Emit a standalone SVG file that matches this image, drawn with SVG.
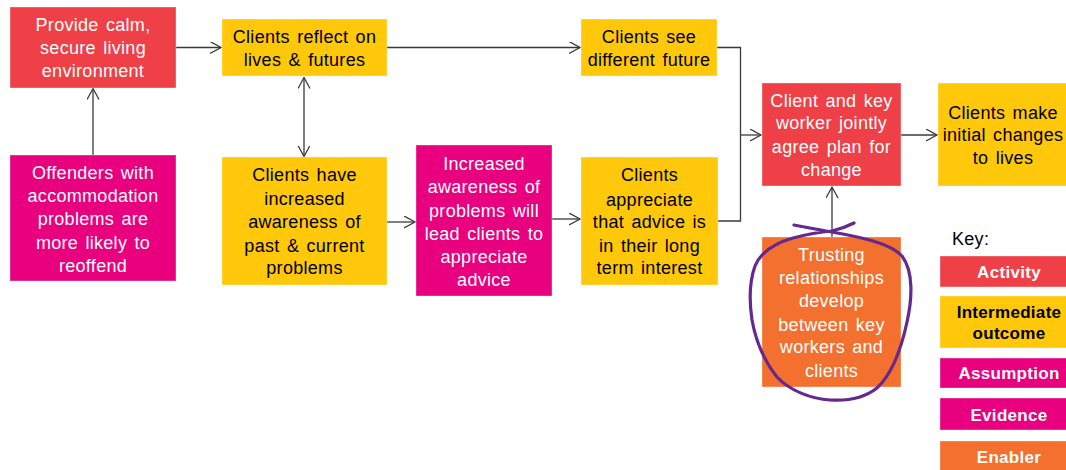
<svg xmlns="http://www.w3.org/2000/svg" width="1066" height="470" viewBox="0 0 1066 470">
<defs>
<style>
.box{stroke:#ffffff;stroke-opacity:0.35;stroke-width:1}
.act{fill:#EE4046}
.out{fill:#FFC80A}
.asm{fill:#E9007F}
.enb{fill:#F3702F}
text{font-family:"Liberation Sans",Arial,sans-serif;font-size:18px;letter-spacing:0.3px;word-spacing:2px;text-anchor:middle}
.w{fill:#ffffff}
.b{fill:#000000}
.key{font-weight:bold;font-size:17px}
.conn{fill:none;stroke:#3a3a3a;stroke-width:1.3}
</style>
<marker id="arr" markerUnits="userSpaceOnUse" markerWidth="14" markerHeight="14" refX="11" refY="6" orient="auto-start-reverse">
<path d="M0,0 L11,6 L0,12" fill="none" stroke="#3a3a3a" stroke-width="1.3"/>
</marker>
</defs>
<rect width="1066" height="470" fill="#ffffff"/>

<g id="connectors">
<path class="conn" d="M176,47.5 H221" marker-end="url(#arr)"/>
<path class="conn" d="M93,155 V88.5" marker-end="url(#arr)"/>
<path class="conn" d="M304,77.5 V156.5" marker-start="url(#arr)" marker-end="url(#arr)"/>
<path class="conn" d="M387,47.5 H580" marker-end="url(#arr)"/>
<path class="conn" d="M717,47.5 H740.5 V221 H718"/>
<path class="conn" d="M740.5,135 H761" marker-end="url(#arr)"/>
<path class="conn" d="M387,222 H415" marker-end="url(#arr)"/>
<path class="conn" d="M552,219 H580" marker-end="url(#arr)"/>
<path class="conn" d="M901,135 H937" marker-end="url(#arr)"/>
<path class="conn" d="M832,237 V187" marker-end="url(#arr)" stroke="#000"/>
</g>

<g id="n-provide">
<rect class="box act" x="10" y="7" width="166" height="81"/>
<text class="w" x="93" y="31">Provide calm,</text>
<text class="w" x="93" y="54">secure living</text>
<text class="w" x="93" y="77">environment</text>
</g>

<g id="n-offenders">
<rect class="box asm" x="10" y="155" width="166" height="126"/>
<text class="w" x="93" y="179">Offenders with</text>
<text class="w" x="93" y="202">accommodation</text>
<text class="w" x="93" y="225">problems are</text>
<text class="w" x="93" y="249">more likely to</text>
<text class="w" x="93" y="272">reoffend</text>
</g>

<g id="n-reflect">
<rect class="box out" x="222" y="19" width="165" height="57"/>
<text class="b" x="304.5" y="43">Clients reflect on</text>
<text class="b" x="304.5" y="66">lives &amp; futures</text>
</g>

<g id="n-have">
<rect class="box out" x="222" y="157" width="165" height="128"/>
<text class="b" x="304.5" y="181">Clients have</text>
<text class="b" x="304.5" y="205">increased</text>
<text class="b" x="304.5" y="228">awareness of</text>
<text class="b" x="304.5" y="252">past &amp; current</text>
<text class="b" x="304.5" y="274">problems</text>
</g>

<g id="n-increased">
<rect class="box asm" x="416" y="145" width="136" height="151"/>
<text class="w" x="484" y="170">Increased</text>
<text class="w" x="484" y="193">awareness of</text>
<text class="w" x="484" y="217">problems will</text>
<text class="w" x="484" y="240">lead clients to</text>
<text class="w" x="484" y="263">appreciate</text>
<text class="w" x="484" y="286">advice</text>
</g>

<g id="n-see">
<rect class="box out" x="581" y="19" width="136" height="57"/>
<text class="b" x="649" y="43">Clients see</text>
<text class="b" x="649" y="66">different future</text>
</g>

<g id="n-appreciate">
<rect class="box out" x="581" y="157" width="137" height="128"/>
<text class="b" x="649.5" y="181">Clients</text>
<text class="b" x="649.5" y="206">appreciate</text>
<text class="b" x="649.5" y="228">that advice is</text>
<text class="b" x="649.5" y="252">in their long</text>
<text class="b" x="649.5" y="274">term interest</text>
</g>

<g id="n-plan">
<rect class="box act" x="762" y="83" width="139" height="103"/>
<text class="w" x="831.5" y="107">Client and key</text>
<text class="w" x="831.5" y="129">worker jointly</text>
<text class="w" x="831.5" y="153">agree plan for</text>
<text class="w" x="831.5" y="176">change</text>
</g>

<g id="n-changes">
<rect class="box out" x="938" y="83" width="132" height="103"/>
<text class="b" x="1003" y="119">Clients make</text>
<text class="b" x="1003" y="141">initial changes</text>
<text class="b" x="1003" y="164">to lives</text>
</g>

<g id="n-trusting">
<rect class="box enb" x="762" y="237" width="139" height="150"/>
<text class="w" x="831.5" y="261">Trusting</text>
<text class="w" x="831.5" y="284">relationships</text>
<text class="w" x="831.5" y="307">develop</text>
<text class="w" x="831.5" y="331">between key</text>
<text class="w" x="831.5" y="353">workers and</text>
<text class="w" x="831.5" y="377">clients</text>
</g>

<g id="annotation">
<path d="M794,225 C810,228 820,230 832,232 C860,237 890,243 902,256 C914,272 912,300 907,322 C901,350 891,375 877,388 C863,399 846,401 830,400 C812,399 790,391 777,377 C765,362 756,342 752,320 C749,300 750,280 755,266 C760,254 772,244 793,238 C808,234 820,232 832,231 C841,229 848,226 854,223" fill="none" stroke="#65288E" stroke-width="3.2" stroke-linecap="round" stroke-linejoin="round"/>
</g>

<g id="key">
<text x="952" y="245" style="text-anchor:start" class="b">Key:</text>
<g id="key-activity">
<rect class="box act" x="940" y="256" width="138" height="31"/>
<text class="w key" x="1009" y="278">Activity</text>
</g>
<g id="key-outcome">
<rect class="box out" x="940" y="296" width="138" height="52"/>
<text class="b key" x="1009" y="318">Intermediate</text>
<text class="b key" x="1009" y="339">outcome</text>
</g>
<g id="key-assumption">
<rect class="box asm" x="940" y="358" width="138" height="30"/>
<text class="w key" x="1009" y="379">Assumption</text>
</g>
<g id="key-evidence">
<rect class="box asm" x="940" y="398" width="138" height="32"/>
<text class="w key" x="1009" y="421">Evidence</text>
</g>
<g id="key-enabler">
<rect class="box enb" x="940" y="441" width="138" height="35"/>
<text class="w key" x="1009" y="463">Enabler</text>
</g>
</g>
</svg>
